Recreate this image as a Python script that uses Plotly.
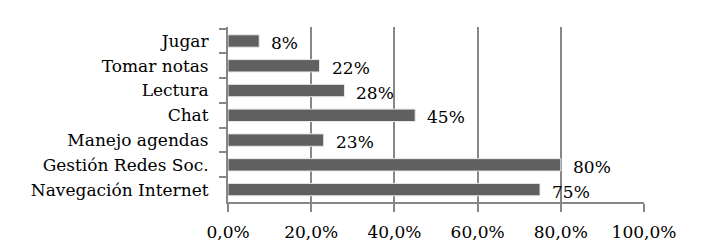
import plotly.graph_objects as go

categories = ["Jugar", "Tomar notas", "Lectura", "Chat", "Manejo agendas",
              "Gestión Redes Soc.", "Navegación Internet"]
values = [0.075, 0.22, 0.28, 0.45, 0.23, 0.80, 0.75]
value_labels = ["8%", "22%", "28%", "45%", "23%", "80%", "75%"]
tick_vals = [0, 0.2, 0.4, 0.6, 0.8, 1.0]
tick_text = ["0,0%", "20,0%", "40,0%", "60,0%", "80,0%", "100,0%"]

FONT = "DejaVu Serif, Liberation Serif, serif"
GRAY = "#868686"

fig = go.Figure(go.Bar(
    x=values, y=categories, orientation="h",
    marker=dict(color="#606060", line=dict(color="#e8e8e8", width=1)),
    width=0.5, hoverinfo="skip",
))

for c, v, t in zip(categories, values, value_labels):
    fig.add_annotation(x=v, y=c, text=t, showarrow=False, xanchor="left",
                       xshift=10, yshift=-2,
                       font=dict(family=FONT, size=17, color="#000000"))

fig.update_layout(
    width=718, height=249,
    margin=dict(l=220, r=82, t=19, b=55, autoexpand=False),
    paper_bgcolor="white", plot_bgcolor="white",
    showlegend=False,
    font=dict(family=FONT, size=17, color="#000000"),
    xaxis=dict(range=[0, 1.0], tickvals=tick_vals, ticktext=tick_text,
               showgrid=True, gridcolor=GRAY, gridwidth=2,
               showline=True, linecolor=GRAY, linewidth=2,
               ticks="outside", ticklen=8, tickwidth=2, tickcolor=GRAY,
               ticklabelstandoff=6,
               zeroline=False, fixedrange=True, automargin=False),
    yaxis=dict(autorange="reversed", type="category", tickson="boundaries",
               showline=True, linecolor=GRAY, linewidth=2,
               ticks="outside", ticklen=7, tickwidth=2, tickcolor=GRAY,
               ticklabelstandoff=14,
               showgrid=False, zeroline=False, fixedrange=True,
               automargin=False),
)

fig.write_html("out.html")
